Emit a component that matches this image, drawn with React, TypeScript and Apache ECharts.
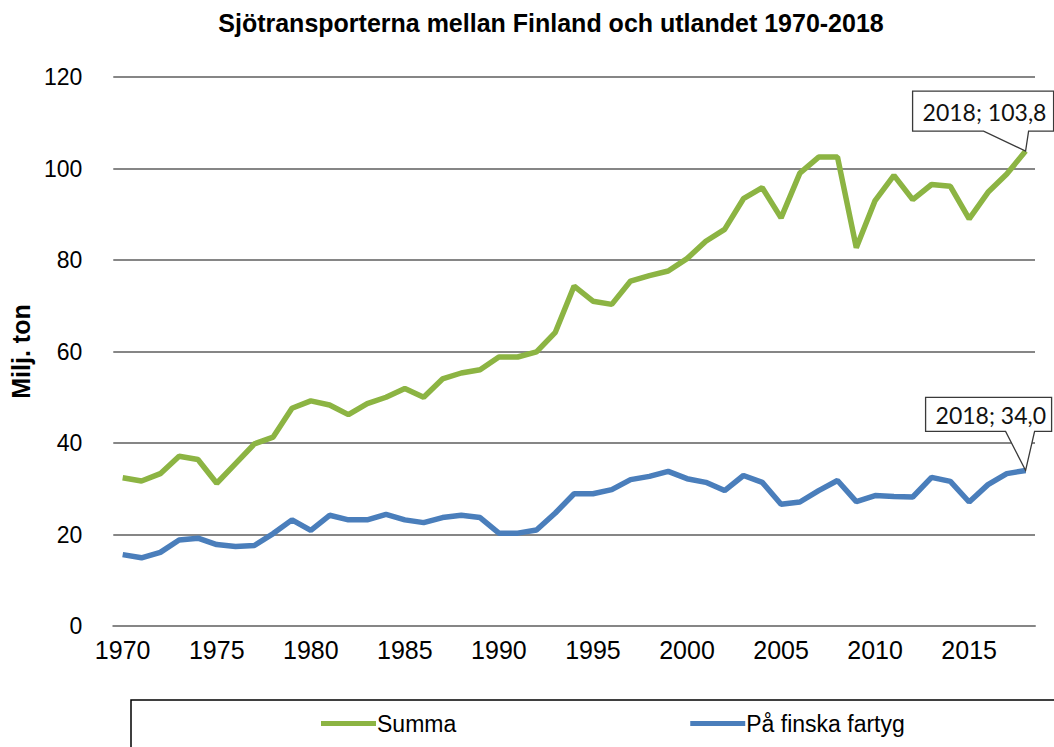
import React, { useEffect, useRef } from "react";
import * as echarts from "echarts";

const years = [
  "1970", "1971", "1972", "1973", "1974", "1975", "1976", "1977", "1978", "1979",
  "1980", "1981", "1982", "1983", "1984", "1985", "1986", "1987", "1988", "1989",
  "1990", "1991", "1992", "1993", "1994", "1995", "1996", "1997", "1998", "1999",
  "2000", "2001", "2002", "2003", "2004", "2005", "2006", "2007", "2008", "2009",
  "2010", "2011", "2012", "2013", "2014", "2015", "2016", "2017", "2018",
];

const summa = [
  32.4, 31.7, 33.3, 37.1, 36.4, 31.2, 35.5, 39.8, 41.3, 47.6,
  49.2, 48.3, 46.2, 48.6, 50.0, 51.9, 50.0, 54.0, 55.3, 56.0,
  58.8, 58.8, 59.9, 64.2, 74.3, 71.0, 70.3, 75.4, 76.6, 77.6,
  80.3, 84.1, 86.7, 93.4, 95.8, 89.2, 99.0, 102.5, 102.5, 82.7,
  93.0, 98.5, 93.2, 96.5, 96.1, 89.0, 94.8, 98.8, 103.8,
];

const finska = [
  15.6, 14.9, 16.1, 18.8, 19.2, 17.8, 17.4, 17.6, 20.2, 23.2,
  20.9, 24.2, 23.2, 23.2, 24.4, 23.2, 22.6, 23.7, 24.2, 23.7,
  20.3, 20.3, 21.0, 24.7, 28.9, 28.9, 29.8, 32.0, 32.7, 33.8,
  32.2, 31.4, 29.6, 32.9, 31.4, 26.6, 27.1, 29.6, 31.8, 27.2,
  28.5, 28.3, 28.2, 32.5, 31.6, 27.1, 30.9, 33.3, 34.0,
];

const seriesNames = ["Summa", "På finska fartyg"];
const colors = ["#8cb443", "#4a7ebb"];
const titleText = "Sjötransporterna mellan Finland och utlandet 1970-2018";
const yName = "Milj. ton";

const ARIAL = "'Liberation Sans', Arial, sans-serif";
const CALLOUT_FONT = "Lato, 'Open Sans', sans-serif";

export default function App() {
  const ref = useRef<HTMLDivElement>(null);

  useEffect(() => {
    const chart = echarts.init(ref.current!, null, { renderer: "svg" });
    chart.setOption({
      animation: false,
      backgroundColor: "#ffffff",
      title: {
        text: titleText,
        left: 546,
        textAlign: "center",
        top: 5,
        textStyle: { fontFamily: ARIAL, fontWeight: "bold", fontSize: 25, color: "#000" },
      },
      grid: { left: 112, right: 19, top: 77, bottom: 121, containLabel: false },
      legend: {
        left: 316,
        top: 707,
        itemWidth: 55,
        itemHeight: 5,
        itemGap: 234,
        icon: "rect",
        textStyle: { fontFamily: ARIAL, fontSize: 23, color: "#000", padding: [0, 0, 0, -4] },
        data: seriesNames,
      },
      xAxis: {
        type: "category",
        data: years,
        boundaryGap: true,
        axisLine: { lineStyle: { color: "#868686", width: 2 } },
        axisTick: { interval: 4, length: 6, lineStyle: { color: "#868686", width: 2 } },
        axisLabel: { interval: 4, margin: 11, fontFamily: ARIAL, fontSize: 25, color: "#000" },
        splitLine: { show: false },
      },
      yAxis: {
        type: "value",
        min: 0,
        max: 120,
        interval: 20,
        name: yName,
        nameLocation: "middle",
        nameGap: 76,
        nameTextStyle: { fontFamily: ARIAL, fontWeight: "bold", fontSize: 25, color: "#000" },
        axisLine: { show: false },
        axisTick: { show: false },
        axisLabel: { margin: 31, fontFamily: ARIAL, fontSize: 23, color: "#000" },
        splitLine: { lineStyle: { color: "#868686", width: 2 } },
      },
      series: [
        {
          name: seriesNames[0],
          type: "line",
          data: summa,
          symbol: "none",
          lineStyle: { color: colors[0], width: 5.5 },
          itemStyle: { color: colors[0] },
        },
        {
          name: seriesNames[1],
          type: "line",
          data: finska,
          symbol: "none",
          lineStyle: { color: colors[1], width: 5.5 },
          itemStyle: { color: colors[1] },
        },
      ],
    });

    const last = years.length - 1;
    const fmt = (v: number) => `${years[last]}; ${v.toFixed(1).replace(".", ",")}`;
    const [gx, gy] = chart.convertToPixel({ gridIndex: 0 }, [last, summa[last]]) as number[];
    const [bx, by] = chart.convertToPixel({ gridIndex: 0 }, [last, finska[last]]) as number[];

    const callout = (
      tx: number, ty: number,
      l: number, r: number, t: number, b: number, pl: number, pr: number, text: string
    ) => [
      {
        type: "polygon",
        shape: {
          points: [
            [tx + l, ty + t], [tx + r, ty + t], [tx + r, ty + b], [tx + pr, ty + b],
            [tx, ty], [tx + pl, ty + b], [tx + l, ty + b],
          ],
        },
        style: { fill: "#ffffff", stroke: "#3a3a3a", lineWidth: 1.3 },
        z: 100,
      },
      {
        type: "text",
        x: tx + l + 10,
        y: ty + (t + b) / 2 + 1,
        style: {
          text,
          fontFamily: CALLOUT_FONT,
          fontSize: 23,
          fill: "#111",
          align: "left",
          verticalAlign: "middle",
          textAlign: "left",
          textVerticalAlign: "middle",
        },
        z: 101,
      },
    ];

    chart.setOption({
      graphic: [
        {
          type: "rect",
          shape: { x: 131, y: 700, width: 1000, height: 100 },
          style: { fill: "none", stroke: "#000", lineWidth: 1.5 },
        },
        ...callout(gx, gy, -113, 28, -60, -20, -42, 3, fmt(summa[last])),
        ...callout(bx, by, -100, 26, -73, -39, -20, 9, fmt(finska[last])),
      ],
    });

    return () => chart.dispose();
  }, []);

  return (
    <div
      ref={ref}
      style={{ position: "fixed", left: 0, top: 0, width: 1054, height: 747 }}
    />
  );
}
